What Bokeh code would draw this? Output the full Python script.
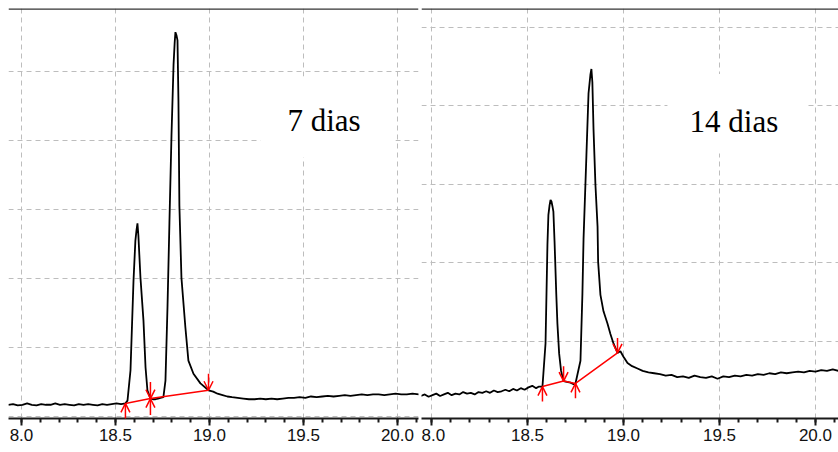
from bokeh.plotting import figure
from bokeh.layouts import row
from bokeh.models import Range1d, SingleIntervalTicker, Span, Arrow, OpenHead, Label, NumeralTickFormatter
from bokeh.embed import file_html
from bokeh.resources import INLINE

# ---------------- data (retention time in min, detector signal) ----------------
left_t = [17.93, 17.955, 17.98, 18.005, 18.03, 18.055, 18.08, 18.105, 18.13, 18.155,
          18.18, 18.205, 18.23, 18.255, 18.28, 18.305, 18.33, 18.355, 18.38, 18.405,
          18.43, 18.455, 18.48, 18.505, 18.53, 18.553, 18.564, 18.580, 18.596, 18.606,
          18.612, 18.617, 18.622, 18.633, 18.649, 18.660, 18.670, 18.686, 18.700, 18.713,
          18.726, 18.739, 18.755, 18.766, 18.777, 18.787, 18.798, 18.809, 18.815, 18.819,
          18.825, 18.830, 18.835, 18.840, 18.851, 18.872, 18.888, 18.915, 18.952, 18.995,
          19.02, 19.043, 19.07, 19.095, 19.12, 19.15, 19.18, 19.21, 19.24, 19.27,
          19.30, 19.33, 19.36, 19.39, 19.42, 19.45, 19.48, 19.51, 19.54, 19.57,
          19.60, 19.63, 19.66, 19.69, 19.72, 19.75, 19.78, 19.81, 19.84, 19.87,
          19.90, 19.93, 19.96, 19.99, 20.02, 20.05, 20.08, 20.115]
left_v = [0.17, 0.18, 0.16, 0.17, 0.19, 0.17, 0.16, 0.18, 0.17, 0.17,
          0.19, 0.17, 0.18, 0.17, 0.16, 0.18, 0.17, 0.18, 0.17, 0.16,
          0.18, 0.17, 0.18, 0.19, 0.18, 0.19, 0.23, 0.67, 1.97, 2.55,
          2.70, 2.80, 2.62, 2.01, 1.39, 0.71, 0.38, 0.26, 0.25, 0.25,
          0.26, 0.27, 0.28, 0.52, 1.61, 2.80, 4.07, 5.10, 5.42, 5.57,
          5.52, 5.45, 4.58, 3.06, 2.01, 1.29, 0.81, 0.62, 0.48, 0.38,
          0.36, 0.33, 0.31, 0.29, 0.28, 0.27, 0.26, 0.25, 0.25, 0.26,
          0.25, 0.26, 0.25, 0.26, 0.27, 0.27, 0.28, 0.27, 0.29, 0.28,
          0.29, 0.30, 0.29, 0.30, 0.31, 0.30, 0.31, 0.32, 0.31, 0.32,
          0.32, 0.31, 0.32, 0.33, 0.32, 0.32, 0.33, 0.32]

right_t = [17.945, 17.965, 17.985, 18.005, 18.025, 18.045, 18.065, 18.085, 18.105, 18.125,
           18.145, 18.165, 18.185, 18.205, 18.225, 18.245, 18.265, 18.285, 18.305, 18.325,
           18.345, 18.365, 18.385, 18.405, 18.425, 18.445, 18.465, 18.485, 18.505, 18.525,
           18.545, 18.56, 18.578, 18.583, 18.594, 18.604, 18.609, 18.615, 18.620, 18.625,
           18.630, 18.635, 18.641, 18.650, 18.656, 18.665, 18.675, 18.688, 18.705, 18.724,
           18.74, 18.75, 18.776, 18.786, 18.792, 18.807, 18.818, 18.828, 18.833, 18.838,
           18.844, 18.854, 18.865, 18.868, 18.880, 18.896, 18.917, 18.932, 18.948, 18.969,
           18.984, 19.00, 19.021, 19.045, 19.073, 19.10, 19.13, 19.16, 19.19, 19.22,
           19.25, 19.28, 19.31, 19.34, 19.37, 19.40, 19.43, 19.46, 19.49, 19.52,
           19.55, 19.58, 19.61, 19.64, 19.67, 19.70, 19.73, 19.76, 19.79, 19.82,
           19.85, 19.88, 19.91, 19.94, 19.97, 20.00, 20.03, 20.06, 20.09, 20.12]
right_v = [0.30, 0.32, 0.29, 0.31, 0.33, 0.30, 0.32, 0.34, 0.31, 0.33,
           0.32, 0.35, 0.33, 0.34, 0.32, 0.35, 0.34, 0.36, 0.34, 0.37,
           0.35, 0.36, 0.38, 0.36, 0.39, 0.37, 0.40, 0.38, 0.41, 0.43,
           0.40, 0.42, 0.42, 0.59, 0.97, 2.23, 2.61, 2.73, 2.80, 2.78,
           2.72, 2.65, 2.27, 1.60, 1.22, 0.84, 0.62, 0.49, 0.48, 0.47,
           0.45, 0.46, 0.75, 1.59, 2.30, 3.37, 4.16, 4.40, 4.47, 4.30,
           3.70, 2.99, 2.46, 2.01, 1.59, 1.38, 1.22, 1.09, 0.97, 0.85,
           0.87, 0.80, 0.72, 0.68, 0.65, 0.62, 0.60, 0.59, 0.58, 0.56,
           0.57, 0.54, 0.55, 0.53, 0.56, 0.54, 0.53, 0.55, 0.52, 0.55,
           0.54, 0.56, 0.55, 0.57, 0.56, 0.58, 0.57, 0.59, 0.58, 0.60,
           0.59, 0.60, 0.61, 0.60, 0.62, 0.61, 0.63, 0.62, 0.64, 0.62]

# integration baseline points (red) and marker directions
left_int_t = [18.553, 18.686, 18.995]
left_int_v = [0.19, 0.26, 0.38]
left_up = [True, True, False]
left_down = [False, True, True]

right_int_t = [18.578, 18.688, 18.750, 18.969]
right_int_v = [0.42, 0.49, 0.46, 0.85]
right_up = [True, False, True, False]
right_down = [False, True, False, True]

left_label = "7 dias"
right_label = "14 dias"
override_labels = {18.0: "8.0"}

GRID = "#bdbdbd"
FIG_H = 452


def panel(t, v, it, iv, ups, downs, xr, yr, width, mb, label, lx, ly, box, alen):
    p = figure(width=width, height=FIG_H, x_range=Range1d(*xr), y_range=Range1d(*yr),
               y_axis_location=None, output_backend="svg", toolbar_location=None,
               min_border_left=mb[0], min_border_right=mb[1], min_border_top=mb[2],
               min_border_bottom=mb[3])
    p.outline_line_color = None
    p.background_fill_color = "white"
    p.border_fill_color = "white"

    ax = p.xaxis[0]
    ax.ticker = SingleIntervalTicker(interval=0.5, num_minor_ticks=5)
    ax.formatter = NumeralTickFormatter(format="0.0")
    ax.major_label_overrides = override_labels
    ax.axis_line_width = 2
    ax.axis_line_color = "#1a1a1a"
    ax.major_tick_line_width = 2
    ax.major_tick_line_color = "#1a1a1a"
    ax.minor_tick_line_width = 2
    ax.minor_tick_line_color = "#1a1a1a"
    ax.major_tick_out = 7
    ax.major_tick_in = 0
    ax.minor_tick_out = 4
    ax.minor_tick_in = 0
    ax.major_label_standoff = 3
    ax.major_label_text_font = "Liberation Sans"
    ax.major_label_text_font_size = "17px"
    ax.major_label_text_color = "#111111"

    p.xgrid.ticker = SingleIntervalTicker(interval=0.5)
    p.ygrid.ticker = SingleIntervalTicker(interval=1)
    for g in (p.xgrid[0], p.ygrid[0]):
        g.grid_line_color = GRID
        g.grid_line_dash = "5 4"
        g.grid_line_width = 1

    # top border line
    p.add_layout(Span(location=yr[1], dimension="width", line_color="#333333", line_width=2.5))

    # white box behind the label
    p.quad(left=[lx + box[0]], right=[lx + box[1]], bottom=[ly + box[2]], top=[ly + box[3]],
           fill_color="white", line_color=None)

    # chromatogram trace
    p.line(t, v, line_color="black", line_width=1.8)

    # integration baseline
    p.line(it, iv, line_color="#ff0000", line_width=1.5)
    for x, y, u, d in zip(it, iv, ups, downs):
        if u:
            p.add_layout(Arrow(x_start=x, y_start=y - alen, x_end=x, y_end=y,
                               line_color="#ff0000", line_width=1.5,
                               end=OpenHead(size=9, line_color="#ff0000", line_width=1.5)))
        if d:
            p.add_layout(Arrow(x_start=x, y_start=y + alen, x_end=x, y_end=y,
                               line_color="#ff0000", line_width=1.5,
                               end=OpenHead(size=9, line_color="#ff0000", line_width=1.5)))

    p.add_layout(Label(x=lx, y=ly, text=label, text_font="Liberation Serif",
                       text_font_size="31px", text_color="black", text_baseline="alphabetic"))
    return p


left = panel(left_t, left_v, left_int_t, left_int_v, left_up, left_down,
             (17.931, 20.112), (-0.029, 5.913), 421, (8, 3, 8, 34),
             left_label, 19.415, 4.29, (-0.144, 0.574, -0.536, 0.638), 0.24)
right = panel(right_t, right_v, right_int_t, right_int_v, right_up, right_down,
              (17.948, 20.120), (0.013, 5.241), 417, (0, 0, 6, 33),
              right_label, 19.344, 3.797, (-0.115, 0.614, -0.405, 0.608), 0.19)

layout = row(left, right)
open("out.html", "w").write(file_html(layout, INLINE))
